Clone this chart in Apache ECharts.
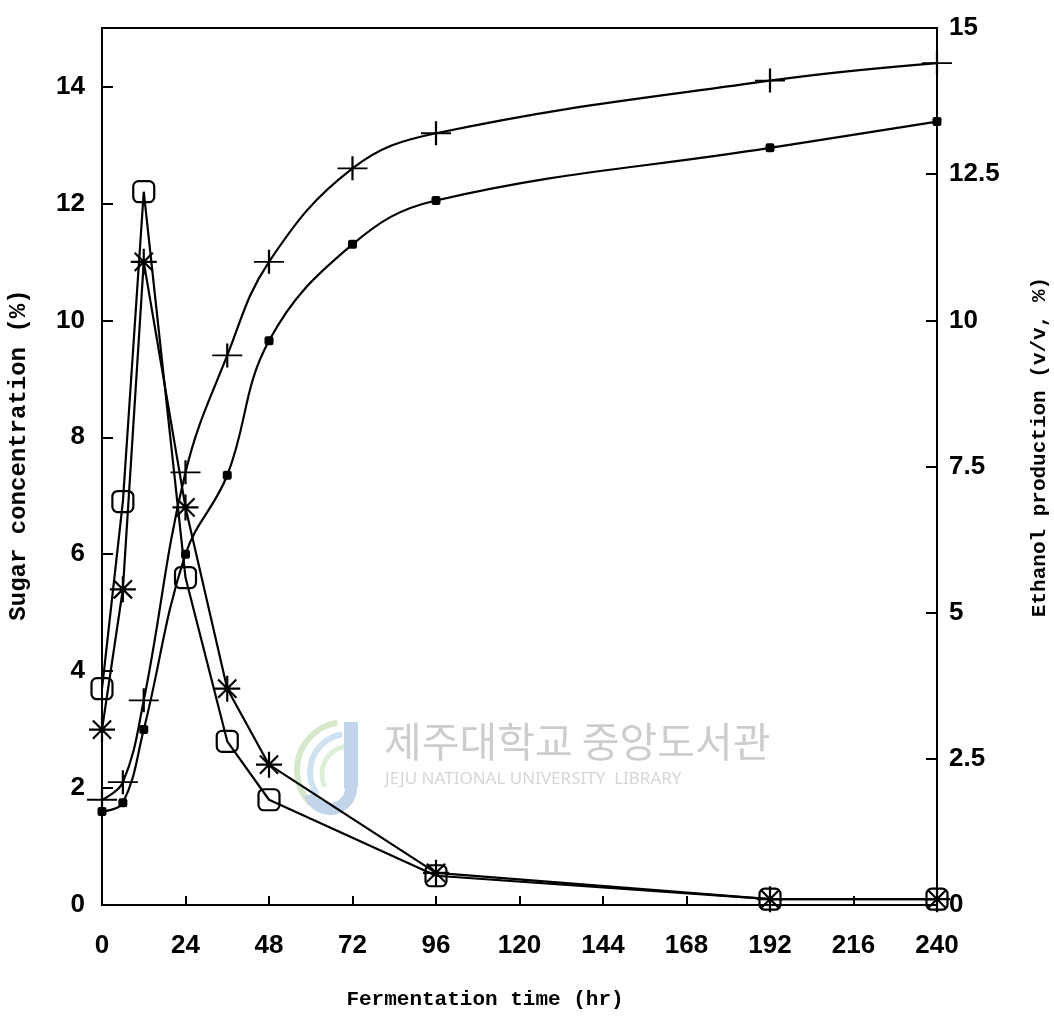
<!DOCTYPE html>
<html>
<head>
<meta charset="utf-8">
<script src="https://cdn.jsdelivr.net/npm/echarts@6/dist/echarts.min.js"></script>
<style>
  html, body { margin: 0; padding: 0; background: #fff; }
  #chart { width: 1054px; height: 1021px; }
</style>
</head>
<body>
<div id="chart"></div>
<script>
// Sampling times (hr)
const sugarTimes = [0, 6, 12, 24, 36, 48, 96, 192, 240];
const ethanolTimes = [0, 6, 12, 24, 36, 48, 72, 96, 192, 240];

// Sugar concentration (%), left axis
const sugarSquare = [3.7, 6.9, 12.2, 5.6, 2.8, 1.8, 0.5, 0.1, 0.1];
const sugarStar = [3.0, 5.4, 11.0, 6.8, 3.7, 2.4, 0.55, 0.1, 0.1];

// Ethanol production (v/v, %), right axis
const ethanolPlus = [1.8, 2.1, 3.5, 7.4, 9.4, 11.0, 12.6, 13.2, 14.1, 14.4];
const ethanolDot = [1.6, 1.75, 3.0, 6.0, 7.35, 9.65, 11.3, 12.05, 12.95, 13.4];

// Axis ranges / tick steps
const timeMax = 240, timeStep = 24;
const sugarMax = 15, sugarStep = 2;
const ethanolMax = 15, ethanolStep = 2.5;

const pairs = (xs, ys) => xs.map((x, i) => [x, ys[i]]);

const labelFont = {
  color: '#000',
  fontFamily: 'Liberation Sans, Arial, sans-serif',
  fontWeight: 'bold',
  fontSize: 26
};
const monoFamily = '"Liberation Mono", "DejaVu Sans Mono", monospace';

const ASTERISK = 'path://M10,0L10,20M0,10L20,10M3,3L17,17M3,17L17,3';
const PLUS = 'path://M0,10L30,10M15,0L15,20';

const chart = echarts.init(document.getElementById('chart'), null, { renderer: 'canvas' });

chart.setOption({
  backgroundColor: '#fff',
  animation: false,
  grid: {
    left: 102, right: 117, top: 28, bottom: 116,
    show: true, borderColor: '#000', borderWidth: 2, backgroundColor: 'transparent'
  },
  xAxis: {
    type: 'value', min: 0, max: timeMax, interval: timeStep,
    axisLine: { lineStyle: { color: '#000', width: 2 } },
    axisTick: { inside: true, length: 9, lineStyle: { color: '#000', width: 2 } },
    axisLabel: Object.assign({ margin: 28 }, labelFont),
    splitLine: { show: false }
  },
  yAxis: [
    {
      type: 'value', min: 0, max: sugarMax, interval: sugarStep, position: 'left',
      axisLine: { show: true, lineStyle: { color: '#000', width: 2 } },
      axisTick: { show: true, inside: true, length: 11, lineStyle: { color: '#000', width: 2 } },
      axisLabel: Object.assign({ margin: 17, showMaxLabel: false }, labelFont),
      splitLine: { show: false }
    },
    {
      type: 'value', min: 0, max: ethanolMax, interval: ethanolStep, position: 'right',
      axisLine: { show: true, lineStyle: { color: '#000', width: 2 } },
      axisTick: { show: true, inside: true, length: 11, lineStyle: { color: '#000', width: 2 } },
      axisLabel: Object.assign({ margin: 12 }, labelFont),
      splitLine: { show: false }
    }
  ],
  graphic: [
    // library watermark
    {
      type: 'group', z: -10, silent: true,
      children: [
        { type: 'arc', shape: { cx: 345, cy: 770, r: 48, startAngle: Math.PI * 0.75, endAngle: Math.PI * 1.45 },
          style: { stroke: '#d6e8ca', lineWidth: 6, fill: null } },
        { type: 'arc', shape: { cx: 348, cy: 772, r: 38, startAngle: Math.PI * 0.8, endAngle: Math.PI * 1.45 },
          style: { stroke: '#cfe2f1', lineWidth: 6, fill: null } },
        { type: 'arc', shape: { cx: 350, cy: 774, r: 28, startAngle: Math.PI * 0.85, endAngle: Math.PI * 1.45 },
          style: { stroke: '#deefd8', lineWidth: 5, fill: null } },
        { type: 'rect', shape: { x: 344, y: 722, width: 14, height: 66 }, style: { fill: '#c2d4ea' } },
        { type: 'arc', shape: { cx: 330, cy: 788, r: 21, startAngle: 0, endAngle: Math.PI * 0.9 },
          style: { stroke: '#c2d4ea', lineWidth: 12, fill: null } },
        { type: 'text', style: { text: '제주대학교 중앙도서관', x: 384, y: 741,
          font: '41px "Noto Sans CJK KR", sans-serif', fill: '#cdcdcd', textVerticalAlign: 'middle' } },
        { type: 'text', style: { text: 'JEJU NATIONAL UNIVERSITY  LIBRARY', x: 385, y: 779,
          font: '17px "Noto Sans", sans-serif', fill: '#d6d6d6', textVerticalAlign: 'middle' } }
      ]
    },
    // axis titles
    { type: 'text', x: 485, y: 1000, style: { text: 'Fermentation time (hr)', font: 'bold 21px ' + monoFamily,
      fill: '#000', textAlign: 'center', textVerticalAlign: 'middle' } },
    { type: 'text', x: 19, y: 455, rotation: Math.PI / 2, style: { text: 'Sugar concentration (%)',
      font: 'bold 24px ' + monoFamily, fill: '#000', textAlign: 'center', textVerticalAlign: 'middle' } },
    { type: 'text', x: 1040, y: 447, rotation: Math.PI / 2, style: { text: 'Ethanol production (v/v, %)',
      font: 'bold 21px ' + monoFamily, fill: '#000', textAlign: 'center', textVerticalAlign: 'middle' } }
  ],
  series: [
    {
      name: 'sugar-square', type: 'line', yAxisIndex: 0, clip: false,
      data: pairs(sugarTimes, sugarSquare),
      symbol: 'roundRect', symbolSize: 21,
      lineStyle: { color: '#000', width: 2.2 },
      itemStyle: { color: 'rgba(0,0,0,0)', borderColor: '#000', borderWidth: 2.2 }
    },
    {
      name: 'sugar-star', type: 'line', yAxisIndex: 0, clip: false,
      data: pairs(sugarTimes, sugarStar),
      symbol: ASTERISK, symbolSize: 26,
      lineStyle: { color: '#000', width: 2.2 },
      itemStyle: { color: '#000', borderColor: '#000', borderWidth: 2.2 }
    },
    {
      name: 'ethanol-plus', type: 'line', yAxisIndex: 1, clip: false,
      data: pairs(ethanolTimes, ethanolPlus),
      smooth: 0.4,
      symbol: PLUS, symbolSize: [30, 24],
      lineStyle: { color: '#000', width: 2.2 },
      itemStyle: { color: '#000', borderColor: '#000', borderWidth: 2 }
    },
    {
      name: 'ethanol-dot', type: 'line', yAxisIndex: 1, clip: false,
      data: pairs(ethanolTimes, ethanolDot),
      smooth: 0.4,
      symbol: 'roundRect', symbolSize: 9,
      lineStyle: { color: '#000', width: 2.2 },
      itemStyle: { color: '#000', borderColor: '#000', borderWidth: 0 }
    }
  ]
});
</script>
</body>
</html>
